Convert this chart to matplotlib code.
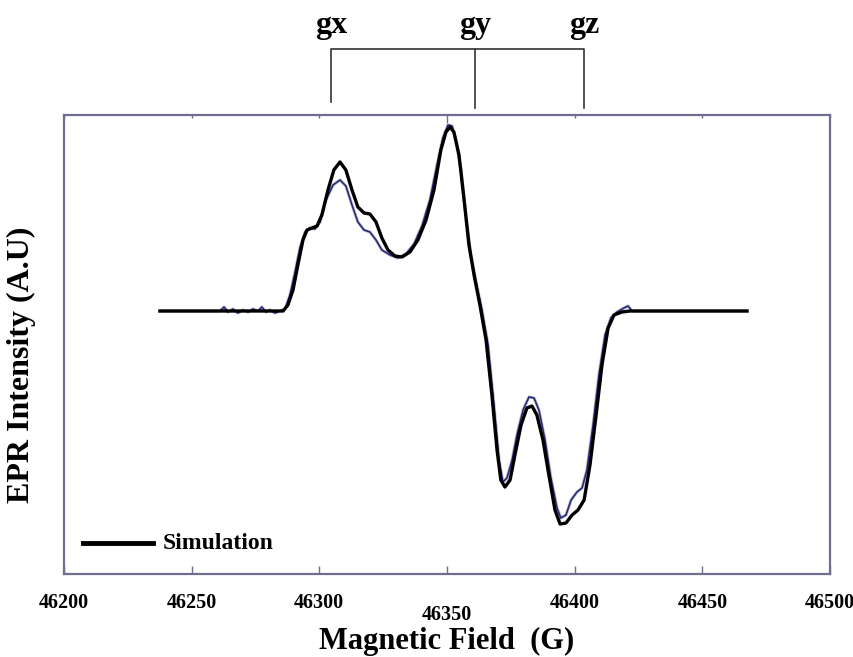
import matplotlib.pyplot as plt
import numpy as np

# magnetic field (G) and intensity (arb. units)
sim_field = [46237.6, 46285.8, 46287.7, 46289.7, 46291.6, 46293.6, 46295.2, 46297.1,
             46299.1, 46301.0, 46303.4, 46305.7, 46308.1, 46310.4, 46312.8, 46315.1,
             46317.5, 46319.8, 46322.2, 46324.5, 46326.9, 46329.6, 46332.4, 46335.5,
             46338.6, 46341.8, 46344.9, 46347.6, 46349.6, 46351.2, 46352.7, 46354.7,
             46356.7, 46358.6, 46360.6, 46362.9, 46365.3, 46367.6, 46369.6, 46371.1,
             46372.7, 46374.7, 46376.6, 46379.0, 46381.3, 46383.3, 46385.2, 46387.6,
             46389.9, 46392.3, 46394.3, 46396.6, 46399.0, 46401.3, 46403.7, 46406.0,
             46408.4, 46410.7, 46413.1, 46415.4, 46418.5, 46421.7, 46467.5]
sim_int = [0, 0, 6, 21, 46, 71, 81, 83,
           85, 96, 121, 141, 149, 141, 121, 104,
           98, 97, 89, 73, 61, 55, 54, 59,
           71, 91, 121, 161, 179, 184, 179, 156,
           111, 66, 36, 6, -29, -84, -139, -169,
           -176, -169, -144, -114, -97, -95, -104, -129,
           -164, -199, -213, -212, -204, -199, -189, -154,
           -104, -54, -17, -4, -1, 0, 0]

exp_field = [46237.6, 46261.1, 46262.7, 46264.2, 46266.2, 46268.1, 46270.1, 46272.1,
             46274.0, 46276.0, 46277.5, 46279.1, 46280.7, 46282.6, 46284.6, 46286.6,
             46288.5, 46290.5, 46292.4, 46294.4, 46296.3, 46298.3, 46300.3, 46302.6,
             46305.4, 46308.1, 46310.4, 46312.8, 46315.1, 46317.5, 46319.8, 46322.2,
             46324.5, 46327.7, 46330.8, 46333.9, 46337.1, 46340.2, 46343.3, 46346.1,
             46348.4, 46350.4, 46352.0, 46353.5, 46355.5, 46357.4, 46359.4, 46361.4,
             46363.7, 46366.1, 46368.4, 46370.4, 46371.9, 46373.5, 46375.5, 46377.4,
             46379.8, 46382.1, 46384.1, 46386.0, 46388.4, 46390.7, 46393.1, 46394.6,
             46396.6, 46398.6, 46400.9, 46402.9, 46404.8, 46407.2, 46409.5, 46411.9,
             46414.2, 46416.6, 46419.3, 46420.9, 46422.5, 46467.5]
exp_int = [0, 0, 4, -1, 2, -2, 1, -1,
           2, 0, 4, -1, 1, -2, 0, 2,
           16, 39, 63, 79, 83, 82, 89, 111,
           126, 131, 125, 106, 89, 81, 79, 71,
           61, 56, 53, 57, 67, 85, 111, 146,
           173, 186, 185, 171, 141, 96, 56, 29,
           1, -34, -94, -149, -171, -167, -149, -124,
           -99, -86, -87, -99, -129, -167, -197, -207,
           -204, -189, -181, -177, -159, -114, -64, -24,
           -7, -1, 3, 5, 0, 0]

g_names = ["gx", "gy", "gz"]
g_pos = [46304.6, 46361.0, 46403.6]
xticks = [46200, 46250, 46300, 46350, 46400, 46450, 46500]

plt.rcParams['font.family'] = ['Liberation Serif', 'DejaVu Serif']
plt.rcParams['font.weight'] = 'bold'

fig = plt.figure(figsize=(8.54, 6.57), dpi=100)
ax = fig.add_axes([0.0749, 0.1263, 0.8970, 0.6987])

ax.plot(exp_field, exp_int, color="#b4b4c4", lw=2.2, zorder=2)
ax.plot(exp_field, exp_int, color="#24247a", lw=1.1, zorder=3)
ax.plot(sim_field, sim_int, color="black", lw=2.4, zorder=4)

ax.set_xlim(46200, 46500)
ax.set_ylim(-263, 196)
ax.set_yticks([])
ax.set_xticks(xticks)
ax.set_xticklabels([str(t) for t in xticks], fontsize=14.5, fontweight='bold')
ax.tick_params(axis='x', direction='in', length=6, width=1, color="#6e6e90",
               top=True, pad=14)
for t in ax.xaxis.get_major_ticks():
    t.tick2line.set_markersize(2)
ax.xaxis.get_major_ticks()[3].set_pad(22)
ax.get_xticklabels()[-1].set_x(46498)

for s in ax.spines.values():
    s.set_color("#6e6e90")
    s.set_linewidth(1.6)

ax.set_xlabel("Magnetic Field  (G)", fontsize=22, fontweight='bold', va='center')
ax.xaxis.set_label_coords(0.5, -0.146)
ax.set_ylabel("EPR Intensity (A.U)", fontsize=23, fontweight='bold', va='center')
ax.yaxis.set_label_coords(-0.055, 0.455)

# g-value bracket above the plot
ax.plot([g_pos[0], g_pos[0], g_pos[2], g_pos[2]], [209, 262, 262, 203],
        color="#333333", lw=1.2, clip_on=False)
ax.plot([g_pos[1], g_pos[1]], [262, 203], color="#333333", lw=1.2, clip_on=False)
for name, g in zip(g_names, g_pos):
    ax.text(g, 278, name, ha='center', va='baseline', fontsize=23, fontweight='bold')

# legend
ax.plot([46207.4, 46234.8], [-232, -232], color="black", lw=3.5)
ax.text(46238.8, -232, "Simulation", va='center', fontsize=17, fontweight='bold')

plt.savefig("out.png", dpi=100)
